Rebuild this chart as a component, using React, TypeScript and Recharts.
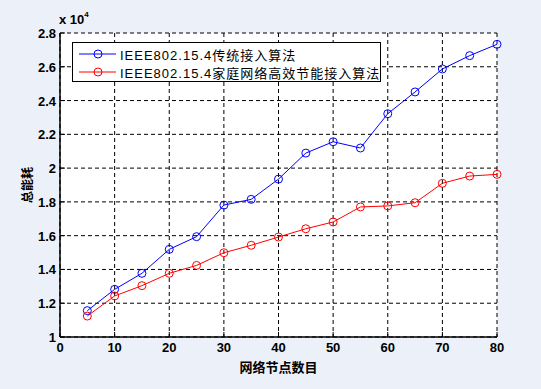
import { CartesianGrid, Label, Legend, Line, LineChart, XAxis, YAxis } from 'recharts'

const nodes = [5, 10, 15, 20, 25, 30, 35, 40, 45, 50, 55, 60, 65, 70, 75, 80]
const traditional = [11560, 12820, 13770, 15190, 15940, 17810, 18150, 19350, 20890, 21560, 21190, 23220, 24510, 25870, 26660, 27330]
const efficient = [11240, 12430, 13040, 13770, 14240, 14990, 15430, 15920, 16410, 16810, 17700, 17760, 17950, 19100, 19530, 19630]

const xTicks = [0, 10, 20, 30, 40, 50, 60, 70, 80]
const yTicks = [10000, 12000, 14000, 16000, 18000, 20000, 22000, 24000, 26000, 28000]

const seriesNames = ['IEEE802.15.4传统接入算法', 'IEEE802.15.4家庭网络高效节能接入算法']

const data = nodes.map((n, i) => ({ n, a: traditional[i], b: efficient[i] }))

const tickFont = { fontFamily: 'Liberation Sans, Arial, sans-serif', fontWeight: 700, fontSize: 13, fill: '#000' }

const fmtY = (v: number) => String(Number((v / 10000).toFixed(1)))

const YTick = ({ x, y, payload }: any) => (
  <g>
    <text x={x} y={y} dy={5} textAnchor="end" {...tickFont}>{fmtY(payload.value)}</text>
    <line x1={x + 4} x2={x + 9} y1={y} y2={y} stroke="#000" />
  </g>
)

const XTick = ({ x, y, payload }: any) => (
  <g>
    <text x={x} y={y} dy={9} textAnchor="middle" {...tickFont}>{payload.value}</text>
    <line x1={x} x2={x} y1={y - 6} y2={y - 11} stroke="#000" />
  </g>
)

const TopTick = ({ x, y }: any) => <line x1={x} x2={x} y1={y} y2={y + 5} stroke="#000" />
const RightTick = ({ x, y }: any) => <line x1={x - 5} x2={x} y1={y} y2={y} stroke="#000" />

const LegendBox = ({ payload }: any) => (
  <div style={{ border: '1px solid #000', background: '#fff', width: 307, height: 36, paddingTop: 2, boxSizing: 'content-box' }}>
    {(payload || []).map((item: any) => (
      <div key={item.value} style={{ display: 'flex', alignItems: 'center', height: 18 }}>
        <svg width={47} height={18} style={{ flex: 'none' }}>
          <line x1={6} x2={43} y1={9} y2={9} stroke={item.color} />
          <circle cx={25} cy={9} r={4} fill="none" stroke={item.color} />
        </svg>
        <span style={{ fontFamily: 'Liberation Sans, Arial, "Noto Sans CJK SC", sans-serif', fontSize: 13, letterSpacing: 1, color: '#000', whiteSpace: 'nowrap' }}>
          {item.value}
        </span>
      </div>
    ))}
  </div>
)

export default function App() {
  return (
    <div style={{ position: 'fixed', left: 0, top: 0, width: 541, height: 389, background: '#ECF1F9' }}>
      <div style={{ position: 'absolute', left: 59, top: 12, fontFamily: 'Liberation Sans, Arial, sans-serif', fontWeight: 700, fontSize: 13, color: '#000' }}>
        x 10<sup style={{ fontSize: 8, position: 'relative', top: -2 }}>4</sup>
      </div>
      <LineChart width={541} height={389} data={data} margin={{ top: 33, right: 44, left: 20, bottom: 18 }}>
        <CartesianGrid stroke="#000" strokeDasharray="4 3" fill="#fff" fillOpacity={1} />
        <XAxis
          dataKey="n"
          type="number"
          domain={[0, 80]}
          ticks={xTicks}
          height={34}
          tickSize={0}
          tickMargin={6}
          tickLine={false}
          tick={<XTick />}
          axisLine={{ stroke: '#000', strokeWidth: 1.5 }}
          interval={0}
        >
          <Label value="网络节点数目" position="insideBottom" offset={-1} style={{ fontFamily: '"Noto Sans CJK SC", sans-serif', fontWeight: 700, fontSize: 13, fill: '#000' }} />
        </XAxis>
        <XAxis
          xAxisId="top"
          orientation="top"
          type="number"
          domain={[0, 80]}
          ticks={xTicks}
          height={0}
          tickSize={0}
          tickMargin={0}
          tickLine={false}
          tick={<TopTick />}
          axisLine={{ stroke: '#000' }}
          interval={0}
        />
        <YAxis
          type="number"
          domain={[10000, 28000]}
          ticks={yTicks}
          width={40}
          tickSize={0}
          tickMargin={4}
          tickLine={false}
          tick={<YTick />}
          axisLine={{ stroke: '#000', strokeWidth: 1.5 }}
          interval={0}
        >
          <Label value="总能耗" angle={-90} position="insideLeft" offset={8} style={{ fontFamily: '"Noto Sans CJK SC", sans-serif', fontWeight: 700, fontSize: 12, fill: '#000', textAnchor: 'middle' }} />
        </YAxis>
        <YAxis
          yAxisId="right"
          orientation="right"
          type="number"
          domain={[10000, 28000]}
          ticks={yTicks}
          width={0}
          tickSize={0}
          tickMargin={0}
          tickLine={false}
          tick={<RightTick />}
          axisLine={{ stroke: '#000' }}
          interval={0}
        />
        <Legend
          layout="horizontal"
          verticalAlign="middle"
          align="center"
          content={<LegendBox />}
          wrapperStyle={{ left: 72, top: 42, width: 'auto', height: 'auto' }}
        />
        <Line
          dataKey="a"
          name={seriesNames[0]}
          stroke="#0000FF"
          strokeWidth={1}
          dot={{ r: 4, fill: 'none', stroke: '#0000FF', strokeWidth: 1 }}
          activeDot={false}
          isAnimationActive={false}
        />
        <Line
          dataKey="b"
          name={seriesNames[1]}
          stroke="#FF0000"
          strokeWidth={1}
          dot={{ r: 4, fill: 'none', stroke: '#FF0000', strokeWidth: 1 }}
          activeDot={false}
          isAnimationActive={false}
        />
      </LineChart>
    </div>
  )
}
